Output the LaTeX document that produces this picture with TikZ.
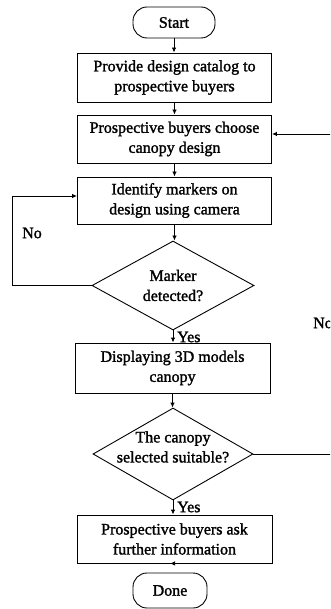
\documentclass[tikz,border=0pt]{standalone}
\usepackage{fontspec}
\setmainfont{Liberation Serif}
\newfontfamily\heavyserif{Liberation Serif}[FakeBold=1.5]
\usetikzlibrary{shapes.geometric,arrows.meta,calc}
\begin{document}
\begin{tikzpicture}[x=1pt,y=-1pt,
  every node/.style={font=\heavyserif\fontsize{16}{20}\selectfont, align=center, inner sep=0pt},
  procbox/.style={draw, line width=0.9pt, minimum width=194pt},
  term/.style={draw, line width=0.9pt, rounded corners=14pt},
  decide/.style={draw, line width=0.9pt, diamond, aspect=1.8},
  link/.style={line width=0.9pt, -{Latex[length=5pt,width=4.5pt]}}]
\clip (0,0) rectangle (330,609);
\fill[white] (0,0) rectangle (330,609);
\node[term, minimum width=82pt, minimum height=31pt] (start) at (174,22.5) {Start};
\node[procbox, minimum height=49pt] (b1) at (174.5,77.5) {Provide design catalog to\\prospective buyers};
\node[procbox, minimum height=48pt] (b2) at (174.5,139) {Prospective buyers choose\\canopy design};
\node[procbox, minimum height=47pt] (b3) at (174.5,200.5) {Identify markers on\\design using camera};
\node[decide, minimum width=162pt, minimum height=89pt] (d1) at (173,285.5) {Marker\\detected?};
\node[procbox, minimum height=50pt, minimum width=195pt] (b4) at (172.5,368) {Displaying 3D models\\canopy};
\node[decide, minimum width=160pt, minimum height=92pt] (d2) at (173,454) {};
\node (d2t) at (173,447) {The canopy\\selected suitable?};
\node[procbox, minimum height=48pt, minimum width=195pt] (b5) at (174.5,539) {Prospective buyers ask\\further information};
\node[term, minimum width=74pt, minimum height=35pt] (done) at (170,590.5) {Done};

\draw[link] (start.south) -- (start.south |- b1.north);
\draw[link] (b1.south) -- (b1.south |- b2.north);
\draw[link] (b2.south) -- (b2.south |- b3.north);
\draw[link] (b3.south) -- (b3.south |- d1.north);
\draw[link] (d1.south) -- (d1.south |- b4.north);
\draw[link] (b4.south) -- (b4.south |- d2.north);
\draw[link] (d2.south) -- (d2.south |- b5.north);
\draw[link] (b5.south) -- (b5.south -| done.north);

\coordinate (lp) at (12,285.5);
\draw[link] (d1.west) -- (lp) |- ([yshift=4.5pt]b3.west);
\coordinate (rp) at (345,454);
\draw[link] (d2.east) -- (rp) |- ([yshift=5pt]b2.east);

\node (no1) at (32,233) {No};
\node[anchor=west] (no2) at (313,323) {No};
\node[anchor=west] (yes1) at (177,337) {Yes};
\node[anchor=west] (yes2) at (177,507) {Yes};
\end{tikzpicture}
\end{document}
